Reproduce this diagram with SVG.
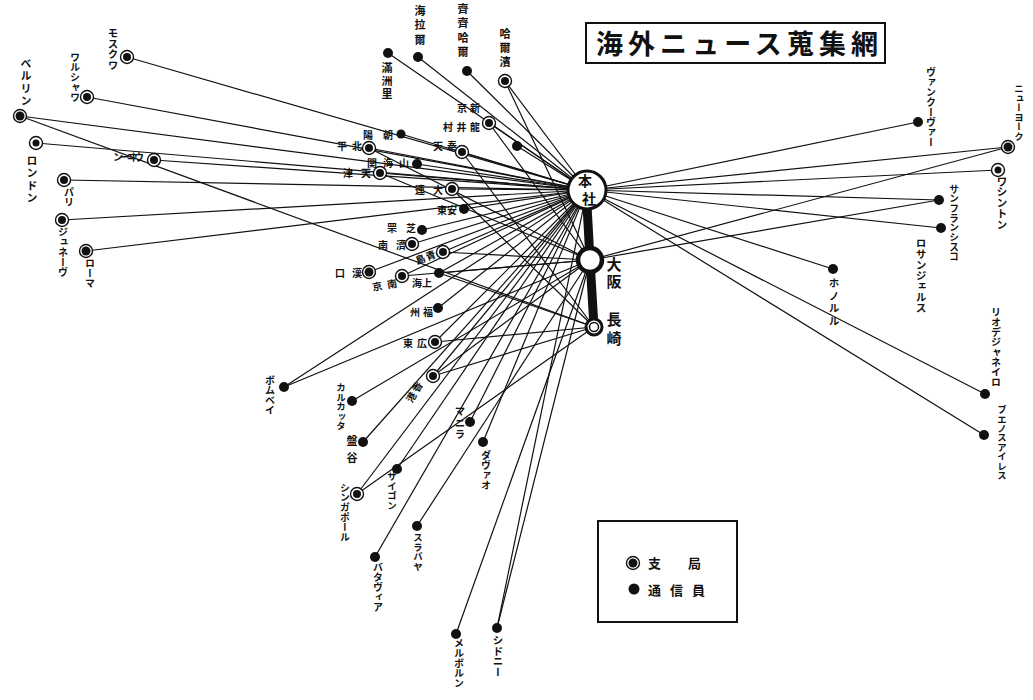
<svg xmlns="http://www.w3.org/2000/svg" width="1033" height="700" viewBox="0 0 1033 700">
<style>
text{font-family:"Noto Sans CJK JP","Noto Sans CJK SC",sans-serif;font-weight:bold;fill:#111}
.v{writing-mode:vertical-rl;font-size:10px}
.h{font-size:10px}
#connectors line{stroke:#111;stroke-width:1.2}
.d1{fill:#fff;stroke:#111;stroke-width:1.4}
.d2{fill:#111}
.s{fill:#111}
</style>
<rect width="1033" height="700" fill="#fff"/>
<g id="connectors">
<line x1="127" y1="57" x2="587" y2="190"/>
<line x1="87" y1="97" x2="587" y2="190"/>
<line x1="20" y1="116" x2="587" y2="190"/>
<line x1="20" y1="116" x2="594" y2="327"/>
<line x1="36" y1="143" x2="587" y2="190"/>
<line x1="154" y1="160" x2="587" y2="190"/>
<line x1="64" y1="180" x2="587" y2="190"/>
<line x1="62" y1="220" x2="587" y2="190"/>
<line x1="86" y1="251" x2="587" y2="190"/>
<line x1="388" y1="53" x2="587" y2="190"/>
<line x1="418" y1="57" x2="587" y2="190"/>
<line x1="467" y1="71" x2="587" y2="190"/>
<line x1="505" y1="81" x2="587" y2="190"/>
<line x1="505" y1="81" x2="590" y2="260"/>
<line x1="489" y1="123" x2="587" y2="190"/>
<line x1="489" y1="123" x2="590" y2="260"/>
<line x1="517" y1="146" x2="587" y2="190"/>
<line x1="401" y1="134" x2="587" y2="190"/>
<line x1="369" y1="148" x2="587" y2="190"/>
<line x1="369" y1="148" x2="590" y2="260"/>
<line x1="462" y1="152" x2="587" y2="190"/>
<line x1="462" y1="152" x2="594" y2="327"/>
<line x1="417" y1="164" x2="587" y2="190"/>
<line x1="380" y1="173" x2="587" y2="190"/>
<line x1="380" y1="173" x2="590" y2="260"/>
<line x1="452" y1="189" x2="587" y2="190"/>
<line x1="452" y1="189" x2="594" y2="327"/>
<line x1="464" y1="209" x2="587" y2="190"/>
<line x1="422" y1="230" x2="587" y2="190"/>
<line x1="412" y1="244" x2="587" y2="190"/>
<line x1="443" y1="252" x2="587" y2="190"/>
<line x1="443" y1="252" x2="590" y2="260"/>
<line x1="369" y1="272" x2="587" y2="190"/>
<line x1="402" y1="276" x2="587" y2="190"/>
<line x1="402" y1="276" x2="590" y2="260"/>
<line x1="439" y1="273" x2="587" y2="190"/>
<line x1="439" y1="273" x2="590" y2="260"/>
<line x1="439" y1="273" x2="594" y2="327"/>
<line x1="438" y1="308" x2="587" y2="190"/>
<line x1="435" y1="342" x2="587" y2="190"/>
<line x1="435" y1="342" x2="594" y2="327"/>
<line x1="433" y1="376" x2="587" y2="190"/>
<line x1="433" y1="376" x2="590" y2="260"/>
<line x1="433" y1="376" x2="594" y2="327"/>
<line x1="284" y1="387" x2="587" y2="190"/>
<line x1="284" y1="387" x2="590" y2="260"/>
<line x1="352" y1="401" x2="590" y2="260"/>
<line x1="363" y1="442" x2="587" y2="190"/>
<line x1="397" y1="469" x2="587" y2="190"/>
<line x1="357" y1="494" x2="587" y2="190"/>
<line x1="357" y1="494" x2="594" y2="327"/>
<line x1="470" y1="422" x2="587" y2="190"/>
<line x1="483" y1="442" x2="587" y2="190"/>
<line x1="417" y1="526" x2="590" y2="260"/>
<line x1="375" y1="557" x2="587" y2="190"/>
<line x1="456" y1="634" x2="590" y2="260"/>
<line x1="497" y1="628" x2="587" y2="190"/>
<line x1="497" y1="628" x2="590" y2="260"/>
<line x1="918" y1="122" x2="587" y2="190"/>
<line x1="1008" y1="147" x2="587" y2="190"/>
<line x1="1008" y1="147" x2="590" y2="260"/>
<line x1="998" y1="170" x2="587" y2="190"/>
<line x1="939" y1="200" x2="587" y2="190"/>
<line x1="939" y1="200" x2="590" y2="260"/>
<line x1="941" y1="228" x2="587" y2="190"/>
<line x1="833" y1="269" x2="587" y2="190"/>
<line x1="985" y1="394" x2="587" y2="190"/>
<line x1="984" y1="435" x2="587" y2="190"/>
</g>
<g id="title">
<rect x="586" y="23" width="299" height="40" fill="#fff" stroke="#111" stroke-width="2"/>
<text x="596" y="54" font-size="27" textLength="282" lengthAdjust="spacing">海外ニュース蒐集網</text>
</g>
<g id="trunk">
<polyline points="587,205 590,260 594,327" fill="none" stroke="#111" stroke-width="9"/>
</g>
<g id="honsha">
<circle cx="587" cy="190" r="19" fill="#fff" stroke="#111" stroke-width="3"/>
<text x="585" y="186" font-size="14" text-anchor="middle">本</text>
<text x="589" y="204" font-size="14" text-anchor="middle">社</text>
</g>
<g id="osaka">
<circle cx="590" cy="260" r="12" fill="#fff" stroke="#111" stroke-width="4.5"/>
<text class="v" x="614" y="257" style="font-size:15px;letter-spacing:2px">大阪</text>
</g>
<g id="nagasaki">
<circle cx="594" cy="327" r="8" fill="#fff" stroke="#111" stroke-width="3"/>
<circle cx="594" cy="327" r="4.5" fill="#fff" stroke="#111" stroke-width="1.5"/>
<text class="v" x="614" y="312" style="font-size:15px;letter-spacing:4px">長崎</text>
</g>
<g id="moscow"><circle class="d1" cx="127" cy="57" r="6.5"/><circle class="d2" cx="127" cy="57" r="4"/><text class="v" x="113" y="28" style="font-size:10.5px">モスクワ</text></g>
<g id="warsaw"><circle class="d1" cx="87" cy="97" r="6.5"/><circle class="d2" cx="87" cy="97" r="4"/><text class="v" x="75" y="52">ワルシャワ</text></g>
<g id="berlin"><circle class="d1" cx="20" cy="116" r="6.5"/><circle class="d2" cx="20" cy="116" r="4.5"/><text class="v" x="26" y="58" style="font-size:11px;letter-spacing:1.5px">ベルリン</text></g>
<g id="london"><circle class="d1" cx="36" cy="143" r="6.5"/><circle class="d2" cx="36" cy="143" r="3.5"/><text class="v" x="32" y="155" style="font-size:11px;letter-spacing:1.5px">ロンドン</text></g>
<g id="vienna"><circle class="d1" cx="154" cy="160" r="6.5"/><circle class="d2" cx="154" cy="160" r="4"/><text class="h" x="113" y="161" font-size="9" textLength="31" lengthAdjust="spacing">ンーヰウ</text></g>
<g id="paris"><circle class="d1" cx="64" cy="180" r="6.5"/><circle class="d2" cx="64" cy="180" r="4"/><text class="v" x="69" y="187">パリ</text></g>
<g id="geneva"><circle class="d1" cx="62" cy="220" r="6.5"/><circle class="d2" cx="62" cy="220" r="4"/><text class="v" x="63" y="227">ジュネーヴ</text></g>
<g id="rome"><circle class="d1" cx="86" cy="251" r="6.5"/><circle class="d2" cx="86" cy="251" r="4.5"/><text class="v" x="90" y="258">ローマ</text></g>
<g id="manchuria"><circle class="s" cx="388" cy="53" r="5"/><text class="v" x="387" y="62" style="font-size:11px;letter-spacing:2px">滿洲里</text></g>
<g id="hailar"><circle class="s" cx="418" cy="57" r="5"/><text class="v" x="420" y="5" style="font-size:11px;letter-spacing:3.5px">海拉爾</text></g>
<g id="qiqihar"><circle class="s" cx="467" cy="71" r="5"/><text class="v" x="463" y="3" style="font-size:11px;letter-spacing:3.5px">齊齊哈爾</text></g>
<g id="harbin"><circle class="d1" cx="505" cy="81" r="6.5"/><circle class="d2" cx="505" cy="81" r="4"/><text class="v" x="505" y="28" style="font-size:11px;letter-spacing:3px">哈爾濱</text></g>
<g id="xinjing"><circle class="d1" cx="489" cy="123" r="6.5"/><circle class="d2" cx="489" cy="123" r="4"/><text class="h" x="457" y="112" textLength="23" lengthAdjust="spacing">京新</text></g>
<g id="longjing"><circle class="s" cx="517" cy="146" r="5"/><text class="h" x="443" y="131" textLength="37" lengthAdjust="spacing">村井龍</text></g>
<g id="chaoyang"><circle class="s" cx="401" cy="134" r="4.5"/><text class="h" x="363" y="139" textLength="30" lengthAdjust="spacing">陽朝</text></g>
<g id="beiping"><circle class="d1" cx="369" cy="148" r="6.5"/><circle class="d2" cx="369" cy="148" r="4"/><text class="h" x="337" y="150" textLength="25" lengthAdjust="spacing">平北</text></g>
<g id="fengtian"><circle class="d1" cx="462" cy="152" r="6.5"/><circle class="d2" cx="462" cy="152" r="4"/><text class="h" x="433" y="150" textLength="24" lengthAdjust="spacing">天奉</text></g>
<g id="shanhaiguan"><circle class="s" cx="417" cy="164" r="5"/><text class="h" x="367" y="167" textLength="42" lengthAdjust="spacing">関海山</text></g>
<g id="tianjin"><circle class="d1" cx="380" cy="173" r="6.5"/><circle class="d2" cx="380" cy="173" r="4"/><text class="h" x="343" y="177" textLength="28" lengthAdjust="spacing">津天</text></g>
<g id="dalian"><circle class="d1" cx="452" cy="189" r="6.5"/><circle class="d2" cx="452" cy="189" r="4"/><text class="h" x="415" y="194" textLength="28" lengthAdjust="spacing">連大</text></g>
<g id="andong"><circle class="s" cx="464" cy="209" r="5"/><text class="h" x="437" y="214" textLength="20" lengthAdjust="spacing">東安</text></g>
<g id="zhifu"><circle class="s" cx="422" cy="230" r="5"/><text class="h" x="387" y="232" textLength="29" lengthAdjust="spacing">罘芝</text></g>
<g id="jinan"><circle class="d1" cx="412" cy="244" r="6.5"/><circle class="d2" cx="412" cy="244" r="4"/><text class="h" x="378" y="249" textLength="28" lengthAdjust="spacing">南濟</text></g>
<g id="qingdao"><circle class="d1" cx="443" cy="252" r="6.5"/><circle class="d2" cx="443" cy="252" r="4"/><text class="h" x="415" y="261" textLength="21" lengthAdjust="spacing" transform="rotate(-20 426 257)">島青</text></g>
<g id="hankou"><circle class="d1" cx="369" cy="272" r="6.5"/><circle class="d2" cx="369" cy="272" r="4.5"/><text class="h" x="335" y="277" font-size="11" textLength="27" lengthAdjust="spacing">口漢</text></g>
<g id="nanjing"><circle class="d1" cx="402" cy="276" r="6.5"/><circle class="d2" cx="402" cy="276" r="4"/><text class="h" x="372" y="289" textLength="25" lengthAdjust="spacing" transform="rotate(-10 384 285)">京南</text></g>
<g id="shanghai"><circle class="s" cx="439" cy="273" r="5"/><text class="h" x="412" y="287" textLength="20" lengthAdjust="spacing">海上</text></g>
<g id="fuzhou"><circle class="s" cx="438" cy="308" r="5"/><text class="h" x="410" y="316" textLength="23" lengthAdjust="spacing">州福</text></g>
<g id="guangdong"><circle class="d1" cx="435" cy="342" r="6.5"/><circle class="d2" cx="435" cy="342" r="4"/><text class="h" x="403" y="347" textLength="24" lengthAdjust="spacing">東広</text></g>
<g id="hongkong"><circle class="d1" cx="433" cy="376" r="6.5"/><circle class="d2" cx="433" cy="376" r="4"/><text class="h" x="403" y="396" textLength="22" lengthAdjust="spacing" transform="rotate(-60 414 392)">港香</text></g>
<g id="bombay"><circle class="s" cx="284" cy="387" r="5"/><text class="v" x="270" y="375">ボムベイ</text></g>
<g id="calcutta"><circle class="s" cx="352" cy="401" r="5"/><text class="v" x="341" y="383" style="font-size:9.5px">カルカッタ</text></g>
<g id="bangkok"><circle class="s" cx="363" cy="442" r="5"/><text class="v" x="352" y="435" style="font-size:11px;letter-spacing:6px">盤谷</text></g>
<g id="saigon"><circle class="s" cx="397" cy="469" r="5"/><text class="v" x="392" y="472" style="font-size:9.5px">サイゴン</text></g>
<g id="singapore"><circle class="d1" cx="357" cy="494" r="6.5"/><circle class="d2" cx="357" cy="494" r="4"/><text class="v" x="345" y="483" style="font-size:9.8px">シンガポール</text></g>
<g id="manila"><circle class="s" cx="470" cy="422" r="5"/><text class="v" x="460" y="406" style="font-size:10.5px;letter-spacing:1px">マニラ</text></g>
<g id="davao"><circle class="s" cx="483" cy="442" r="5"/><text class="v" x="486" y="450">ダヴァオ</text></g>
<g id="surabaya"><circle class="s" cx="417" cy="526" r="5"/><text class="v" x="418" y="533" style="font-size:9.5px">スラバヤ</text></g>
<g id="batavia"><circle class="s" cx="375" cy="557" r="5"/><text class="v" x="378" y="562">バタヴィア</text></g>
<g id="melbourne"><circle class="s" cx="456" cy="634" r="5"/><text class="v" x="459" y="638">メルボルン</text></g>
<g id="sydney"><circle class="s" cx="497" cy="628" r="5"/><text class="v" x="498" y="635" style="font-size:10.5px">シドニー</text></g>
<g id="vancouver"><circle class="s" cx="918" cy="122" r="5"/><text class="v" x="931" y="67">ヴァンクーヴァー</text></g>
<g id="newyork"><circle class="d1" cx="1008" cy="147" r="6.5"/><circle class="d2" cx="1008" cy="147" r="4.5"/><text class="v" x="1019" y="84" style="font-size:9.5px">ニューヨーク</text></g>
<g id="washington"><circle class="d1" cx="998" cy="170" r="6.5"/><circle class="d2" cx="998" cy="170" r="3.5"/><text class="v" x="1002" y="176" style="font-size:10.8px">ワシントン</text></g>
<g id="sanfrancisco"><circle class="s" cx="939" cy="200" r="5"/><text class="v" x="954" y="184" style="font-size:9.7px">サンフランシスコ</text></g>
<g id="losangeles"><circle class="s" cx="941" cy="228" r="5"/><text class="v" x="921" y="238" style="font-size:10.7px">ロサンジェルス</text></g>
<g id="honolulu"><circle class="s" cx="833" cy="269" r="5"/><text class="v" x="834" y="278" style="font-size:10.5px;letter-spacing:2px">ホノルル</text></g>
<g id="rio"><circle class="s" cx="985" cy="394" r="5"/><text class="v" x="996" y="307">リオデジャネイロ</text></g>
<g id="buenosaires"><circle class="s" cx="984" cy="435" r="5"/><text class="v" x="1002" y="405" style="font-size:9.4px">ブエノスアイレス</text></g>
<g id="legend">
<rect x="598" y="521" width="139" height="101" fill="#fff" stroke="#111" stroke-width="2"/>
<circle class="d1" cx="633" cy="563" r="6.5"/><circle class="d2" cx="633" cy="563" r="4.5"/>
<text x="648" y="568" font-size="13" textLength="53" lengthAdjust="spacing">支局</text>
<circle class="s" cx="634" cy="589" r="5.5"/>
<text x="648" y="595" font-size="13" textLength="57" lengthAdjust="spacing">通信員</text>
</g>
</svg>
